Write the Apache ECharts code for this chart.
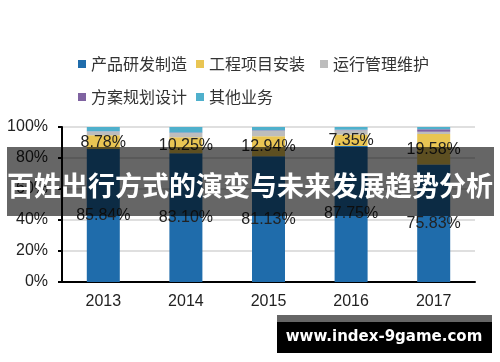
<!DOCTYPE html>
<html><head><meta charset="utf-8">
<script src="https://cdn.jsdelivr.net/npm/echarts@6/dist/echarts.min.js"></script>
<style>html,body{margin:0;padding:0;background:#fff}#c{width:500px;height:362px}</style>
</head><body><div id="c"></div>
<script>
const categories = ['2013','2014','2015','2016','2017'];
const seriesNames = ['产品研发制造','工程项目安装','运行管理维护','方案规划设计','其他业务'];
const manufacturing = [85.84, 83.10, 81.13, 87.75, 75.83];
const installation = [8.78, 10.25, 12.94, 7.35, 19.58];
const operation = [2.4, 2.8, 3.5, 2.8, 1.6];
const planning = [0.2, 0.3, 0.4, 0.3, 1.6];
const others = [2.78, 3.55, 2.03, 1.8, 1.39];
const yTicks = ['0%','20%','40%','60%','80%','100%'];
const title = '百姓出行方式的演变与未来发展趋势分析';
const watermark = 'www.index-9game.com';

const colors = ['#1f6cab','#e9c553','#bdbdbd','#7f63a1','#4fb0cc'];
const values = [manufacturing, installation, operation, planning, others];
const chart = echarts.init(document.getElementById('c'));
const legendPos = [[73,51],[191,51],[315,51],[73,84],[191,84]];
const font = 'Liberation Sans, Arial, sans-serif';
chart.setOption({
  animation: false,
  color: colors,
  grid: {left: 62, right: 25, top: 127, bottom: 80},
  legend: seriesNames.map((n, i) => ({
    data: [n], left: legendPos[i][0], top: legendPos[i][1],
    itemWidth: 8, itemHeight: 8, itemGap: 5, icon: 'rect',
    textStyle: {fontSize: 16, color: '#333', fontFamily: 'Noto Sans CJK SC'}
  })),
  xAxis: {
    type: 'category', data: categories,
    axisLine: {lineStyle: {color: '#000', width: 2}},
    axisTick: {length: 5, lineStyle: {color: '#000', width: 2}},
    axisLabel: {fontSize: 16, color: '#222', margin: 12, fontFamily: font}
  },
  yAxis: {
    type: 'value', min: 0, max: 100, interval: 20,
    axisLine: {show: true, lineStyle: {color: '#000', width: 2}},
    axisTick: {show: true, length: 4, lineStyle: {color: '#000', width: 2}},
    axisLabel: {fontSize: 16, color: '#222', margin: 14, fontFamily: font,
      formatter: (v) => yTicks[Math.round(v / 20)]},
    splitLine: {lineStyle: {color: '#d4d4d4', width: 1.5}}
  },
  series: seriesNames.map((n, i) => ({
    name: n, type: 'bar', stack: 'total', barWidth: 33,
    data: values[i],
    label: i < 2 ? {show: true, position: 'inside', color: '#222', fontSize: 16,
      fontFamily: font, formatter: (p) => p.value.toFixed(2) + '%'} : {show: false}
  })),
  graphic: [
    {type: 'rect', z: 100, shape: {x: 7, y: 147, width: 487, height: 69},
      style: {fill: 'rgba(0,0,0,0.6)'}},
    {type: 'text', z: 101, x: 250, y: 186,
      style: {text: title, fill: '#fff', fontSize: 27, fontWeight: 'bold',
        fontFamily: 'Noto Sans CJK SC', align: 'center', verticalAlign: 'middle'}},
    {type: 'rect', z: 100, shape: {x: 277, y: 315, width: 215, height: 7},
      style: {fill: '#666'}},
    {type: 'rect', z: 100, shape: {x: 277, y: 322, width: 215, height: 31},
      style: {fill: '#000'}},
    {type: 'text', z: 101, x: 384, y: 337,
      style: {text: watermark, fill: '#fff', fontSize: 15, fontWeight: 'bold',
        fontFamily: 'DejaVu Sans', align: 'center', verticalAlign: 'middle'}}
  ]
});
</script></body></html>
